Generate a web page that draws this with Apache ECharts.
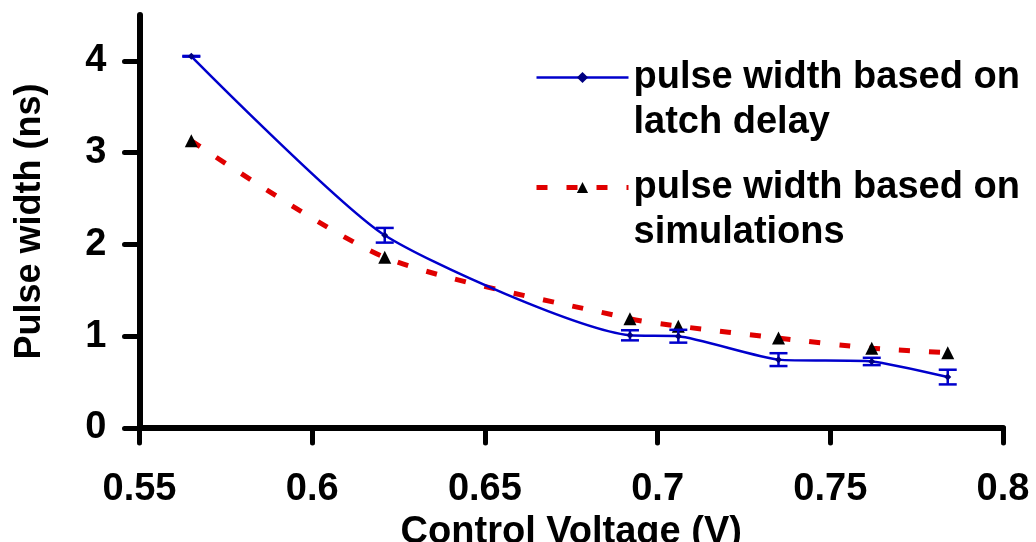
<!DOCTYPE html>
<html>
<head>
<meta charset="utf-8">
<script src="https://cdn.jsdelivr.net/npm/echarts@6/dist/echarts.min.js"></script>
<style>
  html, body { margin: 0; padding: 0; background: #fff; }
  #chart { width: 1036px; height: 542px; }
</style>
</head>
<body>
<div id="chart"></div>
<script>
// control voltage (V)
const voltage = [0.565, 0.621, 0.692, 0.706, 0.735, 0.762, 0.784];
// pulse width from latch delay (ns) and its error
const latchDelay = [4.05, 2.10, 1.01, 1.0, 0.745, 0.725, 0.555];
const latchError = [0.004, 0.08, 0.055, 0.07, 0.07, 0.04, 0.08];
// pulse width from simulations (ns)
const simulation = [3.13, 1.86, 1.19, 1.11, 0.98, 0.87, 0.82];
const xTicks = [0.55, 0.6, 0.65, 0.7, 0.75, 0.8];
const yTicks = [0, 1, 2, 3, 4];

const font = 'Arial, "Liberation Sans", sans-serif';
const blue = '#0000CC';
const red = '#E00000';
const latchName = 'pulse width based on\nlatch delay';
const simName = 'pulse width based on\nsimulations';

const myChart = echarts.init(document.getElementById('chart'));

function setOption() {
  const options = {
    animation: false,
    backgroundColor: '#fff',
    textStyle: { fontFamily: font, fontWeight: 'bold', color: '#000' },
    grid: { left: 139.5, right: 33, top: 15, bottom: 114, outerBoundsMode: 'none' },
    legend: {
      orient: 'vertical',
      left: 534,
      top: 10,
      padding: 0,
      itemWidth: 92,
      itemHeight: 14,
      itemGap: -25,
      data: [
        { name: latchName, lineStyle: { color: blue, width: 2.5, type: 'solid' } },
        { name: simName, lineStyle: { color: red, width: 5, type: [11, 19] } },
      ],
      formatter: (name) => '\n' + name, // first text line sits next to the icon
      textStyle: {
        fontFamily: font,
        fontWeight: 'bold',
        fontSize: 38,
        lineHeight: 45,
        color: '#000',
      },
    },
    xAxis: {
      type: 'value',
      min: 0.55,
      max: 0.8,
      interval: 0.05,
      name: 'Control Voltage (V)',
      nameLocation: 'middle',
      nameGap: 82,
      nameTextStyle: { fontFamily: font, fontWeight: 'bold', fontSize: 38, color: '#000' },
      axisLine: { lineStyle: { color: '#000', width: 6, cap: 'round' } },
      axisTick: { customValues: xTicks, length: 15, lineStyle: { color: '#000', width: 5, cap: 'round' } },
      axisLabel: {
        customValues: xTicks,
        margin: 43,
        fontFamily: font,
        fontWeight: 'bold',
        fontSize: 38,
        color: '#000',
      },
      splitLine: { show: false },
    },
    yAxis: {
      type: 'value',
      min: 0,
      max: 4.5,
      interval: 1,
      name: 'Pulse width (ns)',
      nameLocation: 'middle',
      nameGap: 91,
      nameTextStyle: { fontFamily: font, fontWeight: 'bold', fontSize: 36, color: '#000' },
      axisLine: { show: true, lineStyle: { color: '#000', width: 6, cap: 'round' } },
      axisTick: { show: true, customValues: yTicks, length: 15, lineStyle: { color: '#000', width: 5, cap: 'round' } },
      axisLabel: {
        customValues: yTicks,
        margin: 33,
        fontFamily: font,
        fontWeight: 'bold',
        fontSize: 38,
        color: '#000',
      },
      splitLine: { show: false },
    },
    series: [
      {
        name: simName,
        type: 'line',
        data: voltage.map((v, i) => [v, simulation[i]]),
        smooth: 0.25,
        symbol: 'triangle',
        symbolSize: 13,
        itemStyle: { color: '#000' },
        lineStyle: { color: red, width: 5, type: [11, 19] },
        z: 3,
      },
      {
        type: 'custom',
        name: 'error',
        data: voltage.map((v, i) => [v, latchDelay[i] - latchError[i], latchDelay[i] + latchError[i]]),
        renderItem: (params, api) => {
          const lo = api.coord([api.value(0), api.value(1)]);
          const hi = api.coord([api.value(0), api.value(2)]);
          const w = 9;
          const style = { stroke: blue, lineWidth: 2.5 };
          return {
            type: 'group',
            children: [
              { type: 'line', shape: { x1: lo[0], y1: lo[1], x2: hi[0], y2: hi[1] }, style },
              { type: 'line', shape: { x1: lo[0] - w, y1: lo[1], x2: lo[0] + w, y2: lo[1] }, style },
              { type: 'line', shape: { x1: hi[0] - w, y1: hi[1], x2: hi[0] + w, y2: hi[1] }, style },
            ],
          };
        },
        z: 4,
      },
      {
        name: latchName,
        type: 'line',
        data: voltage.map((v, i) => [v, latchDelay[i]]),
        smooth: 0.2,
        symbol: 'diamond',
        symbolSize: 7,
        itemStyle: { color: '#000080' },
        lineStyle: { color: blue, width: 2.5 },
        z: 5,
      },
    ],
  };
  myChart.setOption(options);
}

setOption();
</script>
</body>
</html>
